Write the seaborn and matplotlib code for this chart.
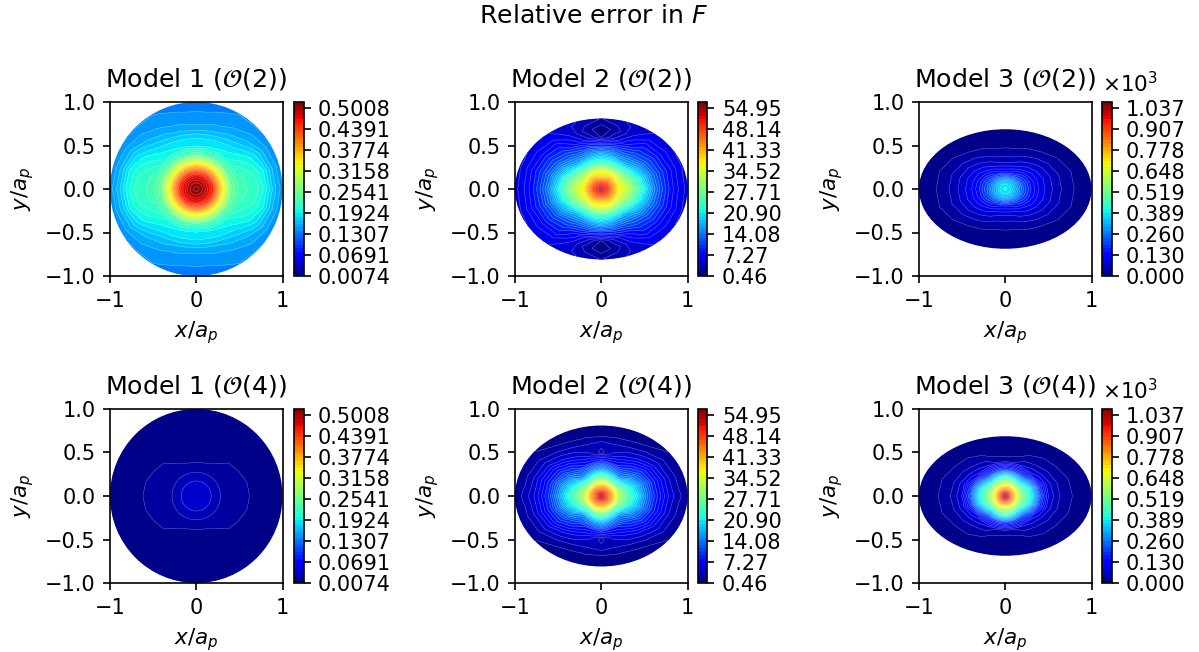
import numpy as np
import matplotlib
matplotlib.use('Agg')
import matplotlib.pyplot as plt
from matplotlib.patches import Ellipse
import seaborn as sns

sns.set_style('ticks', {'axes.edgecolor': 'black', 'xtick.color': 'black', 'ytick.color': 'black',
                        'text.color': 'black', 'axes.labelcolor': 'black'})
plt.rcParams['font.family'] = ['DejaVu Sans']
plt.rcParams['mathtext.fontset'] = 'dejavusans'

radii = [0, 0.05, 0.1, 0.15, 0.2, 0.3, 0.4, 0.5, 0.6, 0.7, 0.8, 0.9, 1.0, 1.05]
angles = [0, 15, 30, 45, 60, 75, 90]

model1_o2 = [
    [.515, .505, .49, .47, .45, .345, .255, .228, .222, .218, .197, .166, .145, .14],
    [.515, .505, .49, .47, .45, .34, .25, .225, .22, .21, .193, .163, .143, .14],
    [.515, .505, .49, .47, .445, .335, .245, .215, .205, .195, .178, .157, .142, .14],
    [.515, .505, .49, .47, .44, .335, .24, .20, .19, .175, .16, .15, .14, .14],
    [.515, .505, .49, .47, .44, .33, .235, .195, .183, .165, .152, .145, .14, .14],
    [.515, .505, .49, .47, .435, .33, .232, .192, .18, .158, .147, .141, .138, .137],
    [.515, .505, .49, .47, .435, .33, .23, .19, .18, .155, .145, .14, .137, .137],
]
model2_o2 = [
    [56, 50, 47, 42, 37, 33, 27, 21, 15, 11, 8, 6, 4.5, 4.5],
    [56, 50, 47, 42, 37, 31, 25, 19, 14, 10.5, 8, 6, 4.5, 4.5],
    [56, 50, 46, 41, 36, 28, 21, 16, 12, 9.5, 7, 5.5, 4.5, 4.5],
    [56, 50, 46, 41, 36, 25, 17, 13, 10, 8, 6, 5, 4.5, 4.5],
    [56, 50, 46, 40, 36, 24, 16, 11, 7, 5, 4, 4, 4, 4],
    [56, 50, 45, 39, 36, 24, 16.5, 10, 4, 2, 3.5, 4, 4, 4],
    [56, 50, 45, 38, 36, 24, 17, 9, 1.4, 1.0, 2.5, 4, 4, 4],
]
model3_o2 = [
    [395, 375, 330, 280, 225, 150, 102, 76, 52, 35, 21.5, 8, 1, 1],
    [395, 375, 328, 275, 220, 145, 100, 74, 50, 33, 20, 7, 1, 1],
    [395, 374, 322, 262, 205, 130, 90, 62, 38, 22, 8, 2, 1, 1],
    [395, 372, 315, 245, 180, 108, 70, 43, 21.5, 9, 2, 1, 1, 1],
    [395, 371, 308, 218, 150, 85, 52, 27, 11, 3, 1, 1, 1, 1],
    [395, 370, 302, 205, 130, 70, 37, 18, 7, 1.5, 1, 1, 1, 1],
    [395, 370, 300, 200, 125, 65, 34, 17, 5, 1, 1, 1, 1, 1],
]
model1_o4 = [
    [.048, .045, .042, .040, .036, .026, .0215, .0195, .018, .016, .013, .010, .0078, .0076],
    [.048, .045, .042, .040, .036, .026, .0213, .0194, .0178, .0158, .0128, .0100, .0078, .0076],
    [.048, .045, .042, .040, .036, .026, .0212, .019, .017, .015, .012, .0098, .0078, .0076],
    [.048, .045, .042, .040, .036, .026, .021, .0185, .016, .0135, .0115, .0095, .0078, .0076],
    [.048, .045, .042, .040, .036, .0255, .0185, .0155, .0135, .012, .0105, .0092, .0078, .0076],
    [.048, .045, .042, .040, .036, .025, .017, .0143, .0128, .0112, .0101, .009, .0078, .0076],
    [.048, .045, .042, .040, .036, .025, .0165, .014, .0125, .011, .010, .009, .0078, .0076],
]
model2_o4 = [
    [56, 50, 44, 38, 32, 26, 21, 15, 10, 7, 4.5, 3, 2, 2],
    [56, 50, 44, 38, 31, 24, 19, 14, 9.5, 6.5, 4, 2.5, 2, 2],
    [56, 50, 44, 37, 28, 20, 15, 11, 8, 5, 3, 2, 1.5, 1.5],
    [56, 50, 44, 36, 26, 15, 11, 8, 5, 3, 1.6, 0.9, 0.8, 0.8],
    [56, 50, 43, 36, 26, 15, 8.5, 5.5, 3.5, 1.8, 0.9, 0.8, 0.8, 0.8],
    [56, 50, 43, 36, 27, 16, 8, 4, 2.9, 1.5, 0.8, 0.7, 0.7, 0.7],
    [56, 50, 43, 36, 28, 17, 9, 2.2, 3.2, 1.3, 0.7, 0.7, 0.7, 0.7],
]
model3_o4 = [
    [1075, 930, 760, 620, 530, 390, 210, 88, 50, 31, 19, 7, 1, 1],
    [1075, 930, 760, 615, 520, 370, 180, 80, 46, 29, 16, 5, 1, 1],
    [1075, 930, 755, 610, 480, 290, 110, 60, 34, 18, 6, 1, 1, 1],
    [1075, 930, 750, 600, 430, 210, 80, 43, 24, 10, 2, 1, 1, 1],
    [1075, 930, 750, 600, 440, 190, 65, 28, 12, 3, 1, 1, 1, 1],
    [1075, 930, 750, 600, 460, 188, 42, 13, 5, 1.5, 1, 1, 1, 1],
    [1075, 930, 750, 600, 480, 190, 35, 10, 3, 1, 1, 1, 1, 1],
]

titles = [r'Model 1 ($\mathcal{O}(2)$)', r'Model 2 ($\mathcal{O}(2)$)', r'Model 3 ($\mathcal{O}(2)$)',
          r'Model 1 ($\mathcal{O}(4)$)', r'Model 2 ($\mathcal{O}(4)$)', r'Model 3 ($\mathcal{O}(4)$)']
fields = [model1_o2, model2_o2, model3_o2, model1_o4, model2_o4, model3_o4]
semi_minor = [1.0, 0.81, 0.687]
color_min = [0.0074, 0.46, 0.0]
color_max = [0.5195, 57.0, 1076.0]
tick_values = [
    [0.0074, 0.0691, 0.1307, 0.1924, 0.2541, 0.3158, 0.3774, 0.4391, 0.5008],
    [0.46, 7.27, 14.08, 20.90, 27.71, 34.52, 41.33, 48.14, 54.95],
    [0, 130, 260, 389, 519, 648, 778, 907, 1037],
]
tick_labels = [
    ['0.0074', '0.0691', '0.1307', '0.1924', '0.2541', '0.3158', '0.3774', '0.4391', '0.5008'],
    ['0.46', '7.27', '14.08', '20.90', '27.71', '34.52', '41.33', '48.14', '54.95'],
    ['0.000', '0.130', '0.260', '0.389', '0.519', '0.648', '0.778', '0.907', '1.037'],
]

W, H = 1199, 652
fig = plt.figure(figsize=(W / 150, H / 150), dpi=150)
fig.suptitle(r'Relative error in $F$', x=594 / W, y=1 - 16 / H, va='center', fontsize=12.15)

cmap = plt.get_cmap('jet')
ax_left = [110, 515, 919]
cb_left = [294, 698, 1102]
row_top = [102, 409]


def add_px_axes(left, top, width, height):
    return fig.add_axes([left / W, 1 - (top + height) / H, width / W, height / H])


theta = np.deg2rad(np.arange(0, 361, 15))
rr, tt = np.meshgrid(radii, theta, indexing='ij')
X, Y = rr * np.cos(tt), rr * np.sin(tt)

for i, field in enumerate(fields):
    row, col = i // 3, i % 3
    ax = add_px_axes(ax_left[col], row_top[row], 172.5, 174)
    cax = add_px_axes(cb_left[col], row_top[row], 9.5, 174)

    q = np.array(field, dtype=float).T
    Z = np.hstack([q, q[:, -2::-1], q[:, 1:], q[:, -2::-1]])  # mirror the quarter

    levels = np.linspace(color_min[col], color_max[col], 51)
    cf = ax.contourf(X, Y, Z, levels=levels, cmap=cmap)
    lines = ax.contour(X, Y, Z, levels=levels, colors='white', linewidths=0.25, alpha=0.4)
    edge = Ellipse((0, 0), 2, 2 * semi_minor[col], transform=ax.transData)
    cf.set_clip_path(edge)
    lines.set_clip_path(edge)

    ax.set_xlim(-1, 1)
    ax.set_ylim(-1, 1)
    ax.set_xticks([-1, 0, 1])
    ax.set_yticks([-1, -0.5, 0, 0.5, 1])
    ax.set_xlabel(r'$x/a_p$', fontsize=10.3)
    ax.set_ylabel(r'$y/a_p$', fontsize=10.3)
    ax.set_title(titles[i], fontsize=12.15, pad=7.5)

    cbar = fig.colorbar(cf, cax=cax)
    cbar.set_ticks(tick_values[col])
    cbar.set_ticklabels(tick_labels[col])
    cbar.ax.minorticks_off()
    if col == 2:
        cax.text(0, 1.035, r'$\times10^{3}$', transform=cax.transAxes, ha='left', va='bottom', fontsize=10.3)

fig.savefig('out.png', dpi=150)
